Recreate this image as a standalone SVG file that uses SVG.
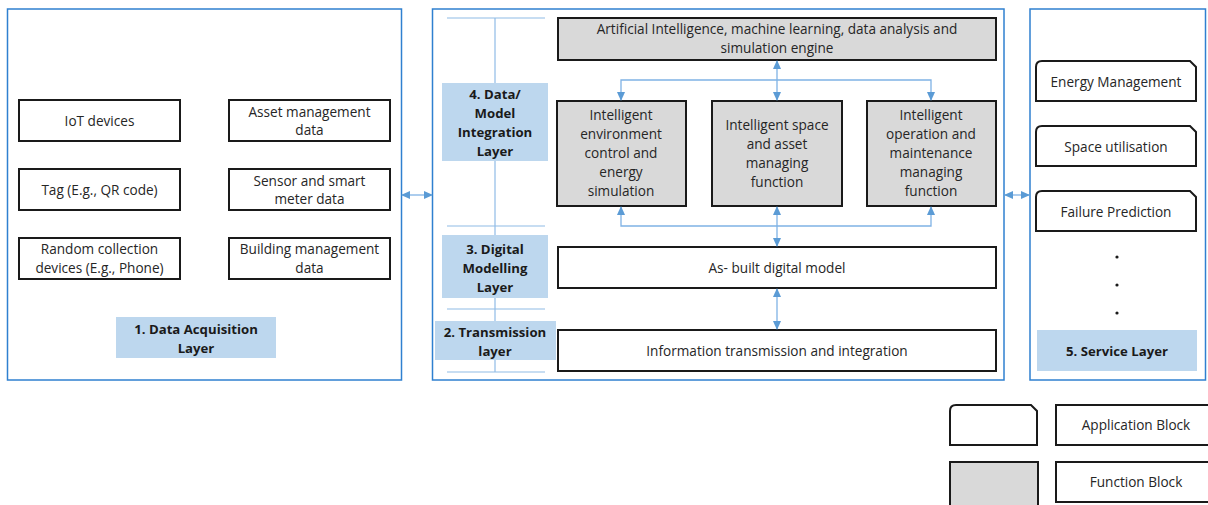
<svg xmlns="http://www.w3.org/2000/svg" width="1208" height="505" viewBox="0 0 1208 505">
<defs>
<style>
.layer{fill:#fff;stroke:#2f80d0;stroke-width:1.5}
.blk{fill:#fff;stroke:#1a1a1a;stroke-width:2}
.fn{fill:#d9d9d9;stroke:#1a1a1a;stroke-width:2}
.lbl{fill:#bdd7ee;stroke:none}
.t{font-family:"Open Sans","Liberation Sans",sans-serif;font-size:13.6px;fill:#262626;text-anchor:middle}
.b{font-family:"Open Sans","Liberation Sans",sans-serif;font-size:13.2px;font-weight:bold;fill:#1a1a1a;text-anchor:middle}
.con{fill:none;stroke:#7fb2e5;stroke-width:1.3}
.tick{fill:none;stroke:#8fbbe6;stroke-width:1.2}
</style>
<marker id="ah" markerWidth="9" markerHeight="8" refX="8" refY="4" orient="auto-start-reverse" markerUnits="userSpaceOnUse">
<path d="M0,0 L9,4 L0,8 Z" fill="#5b9bd5"/>
</marker>
</defs>
<rect width="1208" height="505" fill="#fff"/>

<g id="layer1">
<rect class="layer" x="7.5" y="9" width="394" height="371"/>
<rect class="lbl" x="116" y="317" width="160" height="41"/>
<text class="b" x="196" y="333.5">1. Data Acquisition</text>
<text class="b" x="196" y="352.5">Layer</text>
</g>
<g id="iot"><rect class="blk" x="19" y="100" width="161" height="41"/><text class="t" x="99.5" y="125.5">IoT devices</text></g>
<g id="asset"><rect class="blk" x="229" y="100" width="161" height="41"/><text class="t" x="309.5" y="116.5">Asset management</text><text class="t" x="309.5" y="135">data</text></g>
<g id="tag"><rect class="blk" x="19" y="169" width="161" height="41"/><text class="t" x="99.5" y="194.5">Tag (E.g., QR code)</text></g>
<g id="sensor"><rect class="blk" x="229" y="169" width="161" height="41"/><text class="t" x="309.5" y="185.5">Sensor and smart</text><text class="t" x="309.5" y="204">meter data</text></g>
<g id="random"><rect class="blk" x="19" y="238" width="161" height="41"/><text class="t" x="99.5" y="253.5">Random collection</text><text class="t" x="99.5" y="272.5">devices (E.g., Phone)</text></g>
<g id="bms"><rect class="blk" x="229" y="238" width="161" height="41"/><text class="t" x="309.5" y="253.5">Building management</text><text class="t" x="309.5" y="272.5">data</text></g>

<g id="layer-middle">
<rect class="layer" x="432.5" y="9" width="571.5" height="371"/>
<line class="tick" x1="495" y1="18" x2="495" y2="372"/>
<line class="tick" x1="447" y1="18" x2="545" y2="18"/>
<line class="tick" x1="447" y1="226" x2="545" y2="226"/>
<line class="tick" x1="447" y1="309" x2="545" y2="309"/>
<line class="tick" x1="447" y1="372" x2="545" y2="372"/>
</g>
<g id="label4"><rect class="lbl" x="442" y="83" width="106" height="78"/>
<text class="b" x="495" y="98.5">4. Data/</text><text class="b" x="495" y="117.5">Model</text><text class="b" x="495" y="136.5">Integration</text><text class="b" x="495" y="155.5">Layer</text></g>
<g id="label3"><rect class="lbl" x="442" y="235" width="106" height="63"/>
<text class="b" x="495" y="253.5">3. Digital</text><text class="b" x="495" y="272.5">Modelling</text><text class="b" x="495" y="291.5">Layer</text></g>
<g id="label2"><rect class="lbl" x="435" y="321" width="121" height="39"/>
<text class="b" x="495" y="336.5">2. Transmission</text><text class="b" x="495" y="355.5">layer</text></g>

<g id="ai"><rect class="fn" x="558" y="18" width="438" height="42"/>
<text class="t" x="777" y="33.5">Artificial Intelligence, machine learning, data analysis and</text>
<text class="t" x="777" y="52.5">simulation engine</text></g>
<g id="env"><rect class="fn" x="557" y="101" width="129" height="105"/>
<text class="t" x="621" y="119.5">Intelligent</text><text class="t" x="621" y="138.5">environment</text><text class="t" x="621" y="157.5">control and</text><text class="t" x="621" y="176.5">energy</text><text class="t" x="621" y="195.5">simulation</text></g>
<g id="space"><rect class="fn" x="712" y="101" width="130" height="105"/>
<text class="t" x="777" y="129.5">Intelligent space</text><text class="t" x="777" y="148.5">and asset</text><text class="t" x="777" y="167.5">managing</text><text class="t" x="777" y="186.5">function</text></g>
<g id="om"><rect class="fn" x="867" y="101" width="129" height="105"/>
<text class="t" x="931" y="119.5">Intelligent</text><text class="t" x="931" y="138.5">operation and</text><text class="t" x="931" y="157.5">maintenance</text><text class="t" x="931" y="176.5">managing</text><text class="t" x="931" y="195.5">function</text></g>
<g id="asbuilt"><rect class="blk" x="558" y="247" width="438" height="41"/><text class="t" x="777" y="272.5">As- built digital model</text></g>
<g id="info"><rect class="blk" x="558" y="330" width="438" height="41"/><text class="t" x="777" y="355.5">Information transmission and integration</text></g>

<g id="layer5">
<rect class="layer" x="1030" y="9" width="175.5" height="371"/>
<rect class="lbl" x="1037" y="330" width="160" height="41"/>
<text class="b" x="1117" y="355.5">5. Service Layer</text>
<circle cx="1117" cy="257" r="1.6" fill="#1a1a1a"/>
<circle cx="1117" cy="285" r="1.6" fill="#1a1a1a"/>
<circle cx="1117" cy="313" r="1.6" fill="#1a1a1a"/>
</g>
<g id="energy"><path class="blk" d="M1036,101 V67 Q1036,61 1042,61 H1190 L1196,67 V101 Z"/><text class="t" x="1116" y="86.5">Energy Management</text></g>
<g id="spaceutil"><path class="blk" d="M1036,166 V132 Q1036,126 1042,126 H1190 L1196,132 V166 Z"/><text class="t" x="1116" y="152">Space utilisation</text></g>
<g id="failure"><path class="blk" d="M1036,231 V197 Q1036,191 1042,191 H1190 L1196,197 V231 Z"/><text class="t" x="1116" y="216.5">Failure Prediction</text></g>

<g id="legend-app"><path class="blk" d="M950,445 V411 Q950,405 956,405 H1031 L1037,411 V445 Z"/></g>
<g id="legend-app-label"><rect class="blk" x="1056" y="405" width="160" height="40"/><text class="t" x="1136" y="429.5">Application Block</text></g>
<g id="legend-fn"><rect class="fn" x="950" y="462" width="88" height="50"/></g>
<g id="legend-fn-label"><rect class="blk" x="1056" y="462" width="160" height="40"/><text class="t" x="1136" y="486.5">Function Block</text></g>

<g id="connectors">
<line class="con" x1="402" y1="195" x2="432" y2="195" marker-start="url(#ah)" marker-end="url(#ah)"/>
<line class="con" x1="1005" y1="195" x2="1029" y2="195" marker-start="url(#ah)" marker-end="url(#ah)"/>
<line class="con" x1="777" y1="61" x2="777" y2="100" marker-start="url(#ah)" marker-end="url(#ah)"/>
<polyline class="con" points="621,100 621,80 931,80 931,100" marker-start="url(#ah)" marker-end="url(#ah)"/>
<polyline class="con" points="621,207 621,226 931,226 931,207" marker-start="url(#ah)" marker-end="url(#ah)"/>
<line class="con" x1="777" y1="207" x2="777" y2="246" marker-start="url(#ah)" marker-end="url(#ah)"/>
<line class="con" x1="777" y1="289" x2="777" y2="329" marker-start="url(#ah)" marker-end="url(#ah)"/>
</g>
</svg>
